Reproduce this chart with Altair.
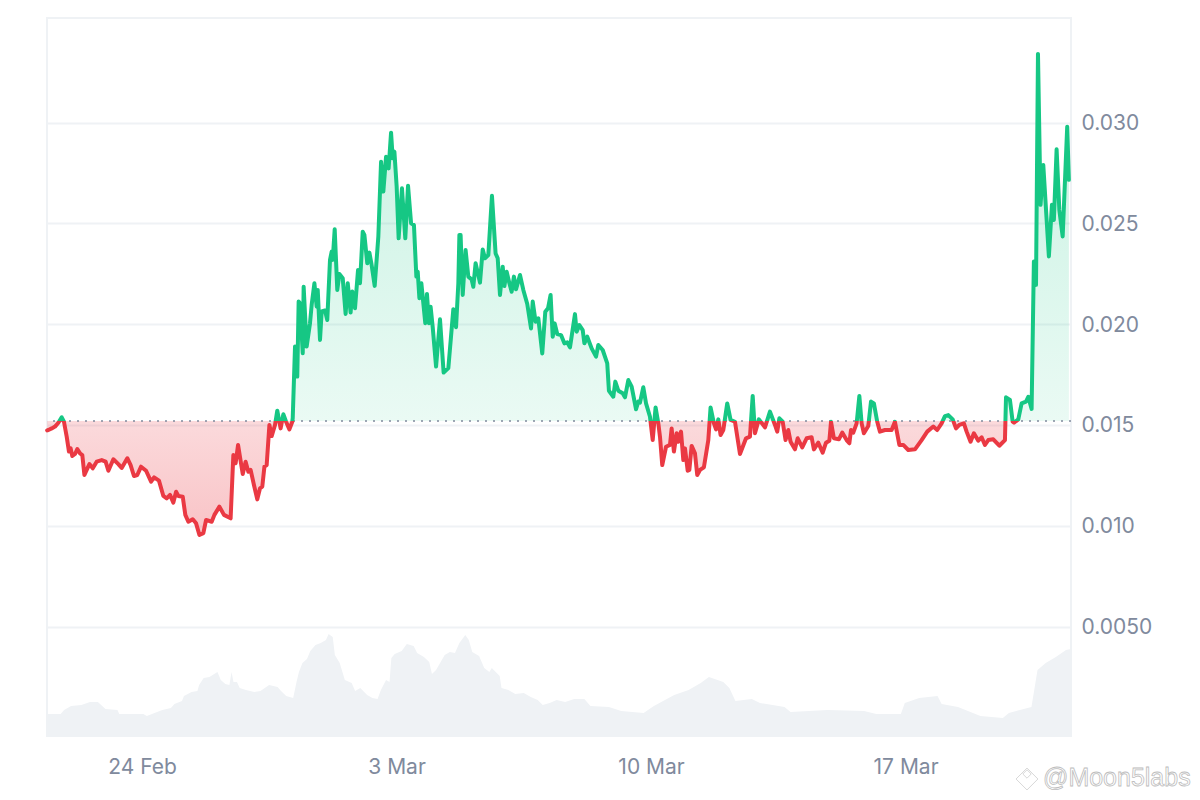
import altair as alt
import pandas as pd

START = pd.Timestamp("2025-02-24")
BASELINE = 0.0152
FONT = "Inter"
GRID = "#eff2f5"
LABEL = "#808a9d"

# hours after 24 Feb 00:00
price_hours = [-62.6,-61.8,-59.6,-57.4,-55.2,-53.0,-51.5,-49.7,-48.2,-47.1,-46.0,-44.2,-42.7,-40.9,-39.4,-38.0,-36.5,-34.7,-32.5,-29.9,-26.6,-24.0,-22.2,-18.9,-15.6,-13.4,-9.7,-7.5,-5.3,-3.1,-0.6,2.7,6.0,8.0,11.2,14.1,16.3,18.5,20.7,22.5,24.0,26.9,28.6,30.6,33.5,35.7,37.9,40.5,42.3,46.0,47.8,51.1,54.1,58.5,60.3,61.8,63.4,66.5,68.4,70.2,71.7,73.9,76.1,77.9,79.4,80.8,82.3,84.1,85.6,87.8,89.3,91.5,93.3,95.1,97.3,99.2,
99.5,101.0,102.5,103.4,104.3,106.1,106.7,108.7,110.9,112.0,113.8,115.3,116.0,117.5,118.6,120.8,122.3,124.1,125.2,125.9,127.2,128.9,130.3,132.5,134.4,135.8,137.7,138.8,140.6,142.6,143.9,145.7,146.8,148.7,150.1,151.4,153.6,156.0,157.8,159.3,161.1,162.8,164.4,165.5,166.6,168.1,169.4,171.6,173.8,175.6,177.6,179.5,181.1,182.0,183.1,184.4,187.0,188.1,189.4,190.5,191.9,194.1,196.7,199.1,202.2,205.5,207.3,208.8,209.5,
210.3,211.7,213.6,215.4,217.6,218.7,220.2,223.1,224.9,226.4,228.6,231.0,233.4,234.8,236.3,238.1,239.2,240.7,242.5,244.0,245.5,246.9,249.5,251.7,254.3,256.8,257.9,259.8,261.6,264.2,266.2,268.0,269.7,271.1,272.4,274.1,276.6,278.8,280.7,282.5,285.8,286.9,288.7,290.9,292.0,293.9,296.8,299.7,301.2,304.1,307.1,308.2,311.1,312.4,314.4,317.3,318.8,321.0,323.2,326.1,327.6,
328.7,330.9,332.7,335.3,337.1,339.0,340.8,341.9,343.4,345.9,348.5,349.6,351.1,352.9,354.0,355.8,357.3,358.4,360.2,361.3,362.8,365.0,366.5,368.3,370.9,373.8,375.3,377.5,378.9,380.4,381.9,383.7,386.3,388.5,391.4,394.7,398.7,401.3,403.1,404.6,407.2,411.2,414.5,417.8,419.3,420.7,422.9,424.8,426.6,428.1,431.0,432.8,435.8,438.7,442.0,443.5,446.4,449.3,451.5,453.7,454.8,456.7,460.0,462.2,465.1,466.9,468.0,469.5,471.7,473.5,
475.0,476.5,479.4,481.2,483.1,485.3,487.1,490.4,494.8,497.0,499.9,502.5,505.8,510.2,514.6,518.3,522.3,524.9,527.8,530.0,532.2,535.1,537.3,539.5,542.5,544.3,546.9,549.1,552.0,554.2,556.4,558.6,561.9,565.9,569.6,570.3,572.9,574.7,575.6,578.4,580.6,583.5,585.0,587.2,
588.7,590.1,591.4,593.1,594.9,598.6,600.6,601.9,603.7,605.5,607.7,610.7,611.8]

# price in hundred-thousandths of a dollar
price_e5 = [1473,1475,1483,1492,1511,1538,1516,1442,1368,1384,1346,1356,1381,1359,1351,1252,1277,1306,1285,1318,1326,1318,1273,1330,1306,1287,1335,1301,1247,1252,1293,1273,1219,1240,1224,1148,1136,1153,1115,1169,1148,1144,1054,1020,1032,1012,954,963,1029,1020,1054,1095,1054,1037,1351,1310,1401,1257,1318,1268,1277,1202,1131,1186,1194,1293,1301,1500,1445,1500,1571,1483,1553,1516,1478,1516,
1534,1889,1740,2112,2104,1856,2186,1889,2005,2096,2203,2087,2170,1922,2063,2068,2021,2319,2360,2319,2471,2170,2249,2228,2051,2203,2058,2162,2079,2269,2203,2459,2443,2302,2355,2302,2190,2434,2806,2658,2831,2773,2950,2823,2856,2682,2426,2674,2426,2687,2501,2492,2236,2261,2129,2203,2005,2150,2005,2087,1985,1790,2024,1760,1782,2074,1985,2203,2443,
2442,2145,2368,2236,2222,2186,2302,2206,2371,2327,2343,2637,2351,2327,2145,2285,2189,2260,2203,2161,2236,2173,2244,2170,2100,1979,2112,2012,2029,1855,2062,2079,2145,1938,2004,1951,1946,1905,1910,1885,2050,1963,1996,1971,1905,1938,1880,1839,1897,1872,1806,1670,1640,1715,1670,1657,1637,1723,1690,1578,1616,
1611,1687,1607,1541,1425,1587,1508,1442,1301,1392,1401,1483,1368,1459,1417,1467,1326,1384,1273,1277,1396,1359,1252,1277,1290,1425,1587,1508,1478,1528,1450,1475,1607,1525,1516,1356,1434,1442,1644,1459,1528,1488,1566,1500,1467,1533,1516,1425,1475,1417,1379,1434,1389,1434,1439,1379,1412,1363,1412,1422,1516,1434,1429,1462,1425,1409,1475,1462,1508,1644,
1508,1459,1495,1616,1607,1516,1467,1475,1475,1516,1401,1401,1376,1379,1425,1467,1492,1475,1508,1544,1549,1528,1483,1500,1508,1467,1417,1459,1422,1439,1401,1425,1429,1397,1425,1637,1624,1516,1511,1528,1607,1616,1640,1580,
2311,2195,3341,2592,2790,2336,2592,2517,2868,2567,2435,2980,2716]

volume_hours = [-62.8,-53.7,-51.4,-46.8,-40,-34.3,-29.1,-24.1,-16.2,-15,0.9,3.2,6.6,13.4,19.1,21.4,26.4,27.7,32.7,36.6,37.7,40.7,44.5,49.8,52,55,57.7,59.1,60.4,62.7,64.5,68.6,74.1,78.2,83.9,89.5,91.8,95.2,99.8,102,103.6,105.9,108.9,111.1,114.5,118,121.4,123.2,125.9,127.3,130.5,133.9,138.4,140.7,144.1,148.6,152.1,155.5,157.7,161.1,163.4,164.6,166.8,171.4,174.8,179.3,181.6,186.1,189.6,191.4,194.1,199.8,203.2,206.6,209.5,213.4,215.7,218,222.5,225.9,229.3,230.9,236.1,237.3,241.8,246.4,252,256.6,261.2,264.5,269.1,273.7,279.3,285.3,292,296,308.2,316.3,331.1,337.9,351.3,360.8,368.8,374.2,383.7,387.7,391.7,402.5,407.9,424.1,428.1,452.4,476.6,484.7,500.9,503.5,513,525.1,527.8,538.6,553.4,568.2,572.2,587.1,591.1,596.5,603.2,609.9,613.2]

# relative traded volume
volume_vals = [22,22,26,30,31,34,34,27,26,22,22,20,22,26,28,32,35,40,44,45,51,58,59,64,56,52,51,64,54,54,48,46,44,45,51,49,45,40,38,54,64,73,77,85,91,93,96,102,99,81,73,56,53,45,48,41,38,37,46,56,54,78,82,85,92,90,83,79,74,62,66,81,84,83,93,101,96,84,80,68,64,68,60,48,46,42,43,39,36,31,33,36,34,37,37,30,29,25,23,30,41,46,53,59,54,48,35,37,33,29,24,26,25,22,22,33,38,40,32,29,20,18,23,29,66,73,79,86,87]

tick_days = ["2025-02-24", "2025-03-03", "2025-03-10", "2025-03-17"]

def stamp(hours):
    return START + pd.to_timedelta(hours, unit="h")

price_df = pd.DataFrame({"time": [stamp(h) for h in price_hours], "price": [p / 1e5 for p in price_e5]})
volume_df = pd.DataFrame({"time": [stamp(h) for h in volume_hours], "volume": volume_vals})

x_scale = alt.Scale(domain=["2025-02-21T09:18:00", "2025-03-21T13:12:00"])
x_axis = alt.Axis(values=tick_days, format="%-d %b", grid=False, domain=False, ticks=False,
                  labelFont=FONT, labelFontSize=21, labelColor=LABEL, labelPadding=20,
                  labelFlush=False, title=None, labelOverlap=False)
y_scale = alt.Scale(domain=[-0.00043, 0.03519], nice=False, zero=False)
y_axis = alt.Axis(orient="right", values=[0.005, 0.01, 0.015, 0.02, 0.025, 0.03],
                  labelExpr="datum.value < 0.006 ? '0.0050' : format(datum.value, '.3f')",
                  grid=True, gridColor=GRID, gridWidth=2, domain=False, ticks=False,
                  labelFont=FONT, labelFontSize=21, labelColor=LABEL, labelPadding=10, labelOffset=1, title=None)

top, bottom = max(price_df.price), min(price_df.price)
split = (top - BASELINE) / (top - bottom)

line_grad = alt.LinearGradient(gradient="linear", x1=0, x2=0, y1=0, y2=1, stops=[
    alt.GradientStop(color="#16c784", offset=0), alt.GradientStop(color="#16c784", offset=split),
    alt.GradientStop(color="#ea3943", offset=split), alt.GradientStop(color="#ea3943", offset=1)])
fill_grad = alt.LinearGradient(gradient="linear", x1=0, x2=0, y1=0, y2=1, stops=[
    alt.GradientStop(color="rgba(22,199,132,0.25)", offset=0), alt.GradientStop(color="rgba(22,199,132,0.09)", offset=split),
    alt.GradientStop(color="rgba(234,57,67,0.19)", offset=split), alt.GradientStop(color="rgba(234,57,67,0.30)", offset=1)])

X = alt.X("time:T", scale=x_scale, axis=x_axis)
Y = alt.Y("price:Q", scale=y_scale, axis=y_axis)

volume = alt.Chart(volume_df).mark_area(color=GRID).encode(
    x=X, y=alt.Y("volume:Q", scale=alt.Scale(domain=[0, 718], nice=False), axis=None))

area = alt.Chart(price_df).mark_area(color=fill_grad).encode(x=X, y=Y, y2=alt.datum(BASELINE))
base_rule = alt.Chart(alt.Data(values=[{"b": BASELINE}])).mark_rule(
    color=LABEL, strokeDash=[2, 6], strokeWidth=1.5).encode(
    y=alt.Y("b:Q", scale=y_scale, axis=y_axis))
line = alt.Chart(price_df).mark_line(color=line_grad, strokeWidth=4, strokeJoin="round", strokeCap="round").encode(x=X, y=Y)
price_layers = alt.layer(area, base_rule, line)

blank = alt.Data(values=[{"k": 1}])
mark_big = alt.Chart(blank).mark_point(shape="diamond", filled=False, size=480, stroke="#c9c9c9", strokeWidth=1).encode(
    x=alt.value(980), y=alt.value(761))
mark_small = alt.Chart(blank).mark_point(shape="diamond", filled=False, size=70, stroke="#c9c9c9", strokeWidth=1).encode(
    x=alt.value(980), y=alt.value(756))
mark_text = alt.Chart(blank).mark_text(text="@Moon5labs", font="Liberation Sans", fontSize=25, align="left",
                                       baseline="middle", fill="#ffffff", stroke="#bdbdbd", strokeWidth=0.8).encode(
    x=alt.value(996), y=alt.value(760))

chart = alt.layer(volume, price_layers, mark_big, mark_small, mark_text).resolve_scale(y="independent").properties(
    width=1024, height=718, background="#ffffff",
    padding={"left": 39, "top": 10, "right": 121, "bottom": 56},
    autosize=alt.AutoSizeParams(type="none"),
).configure_view(stroke=GRID, strokeWidth=2)

chart.save("out.html", embed_options={"renderer": "svg", "actions": False})
